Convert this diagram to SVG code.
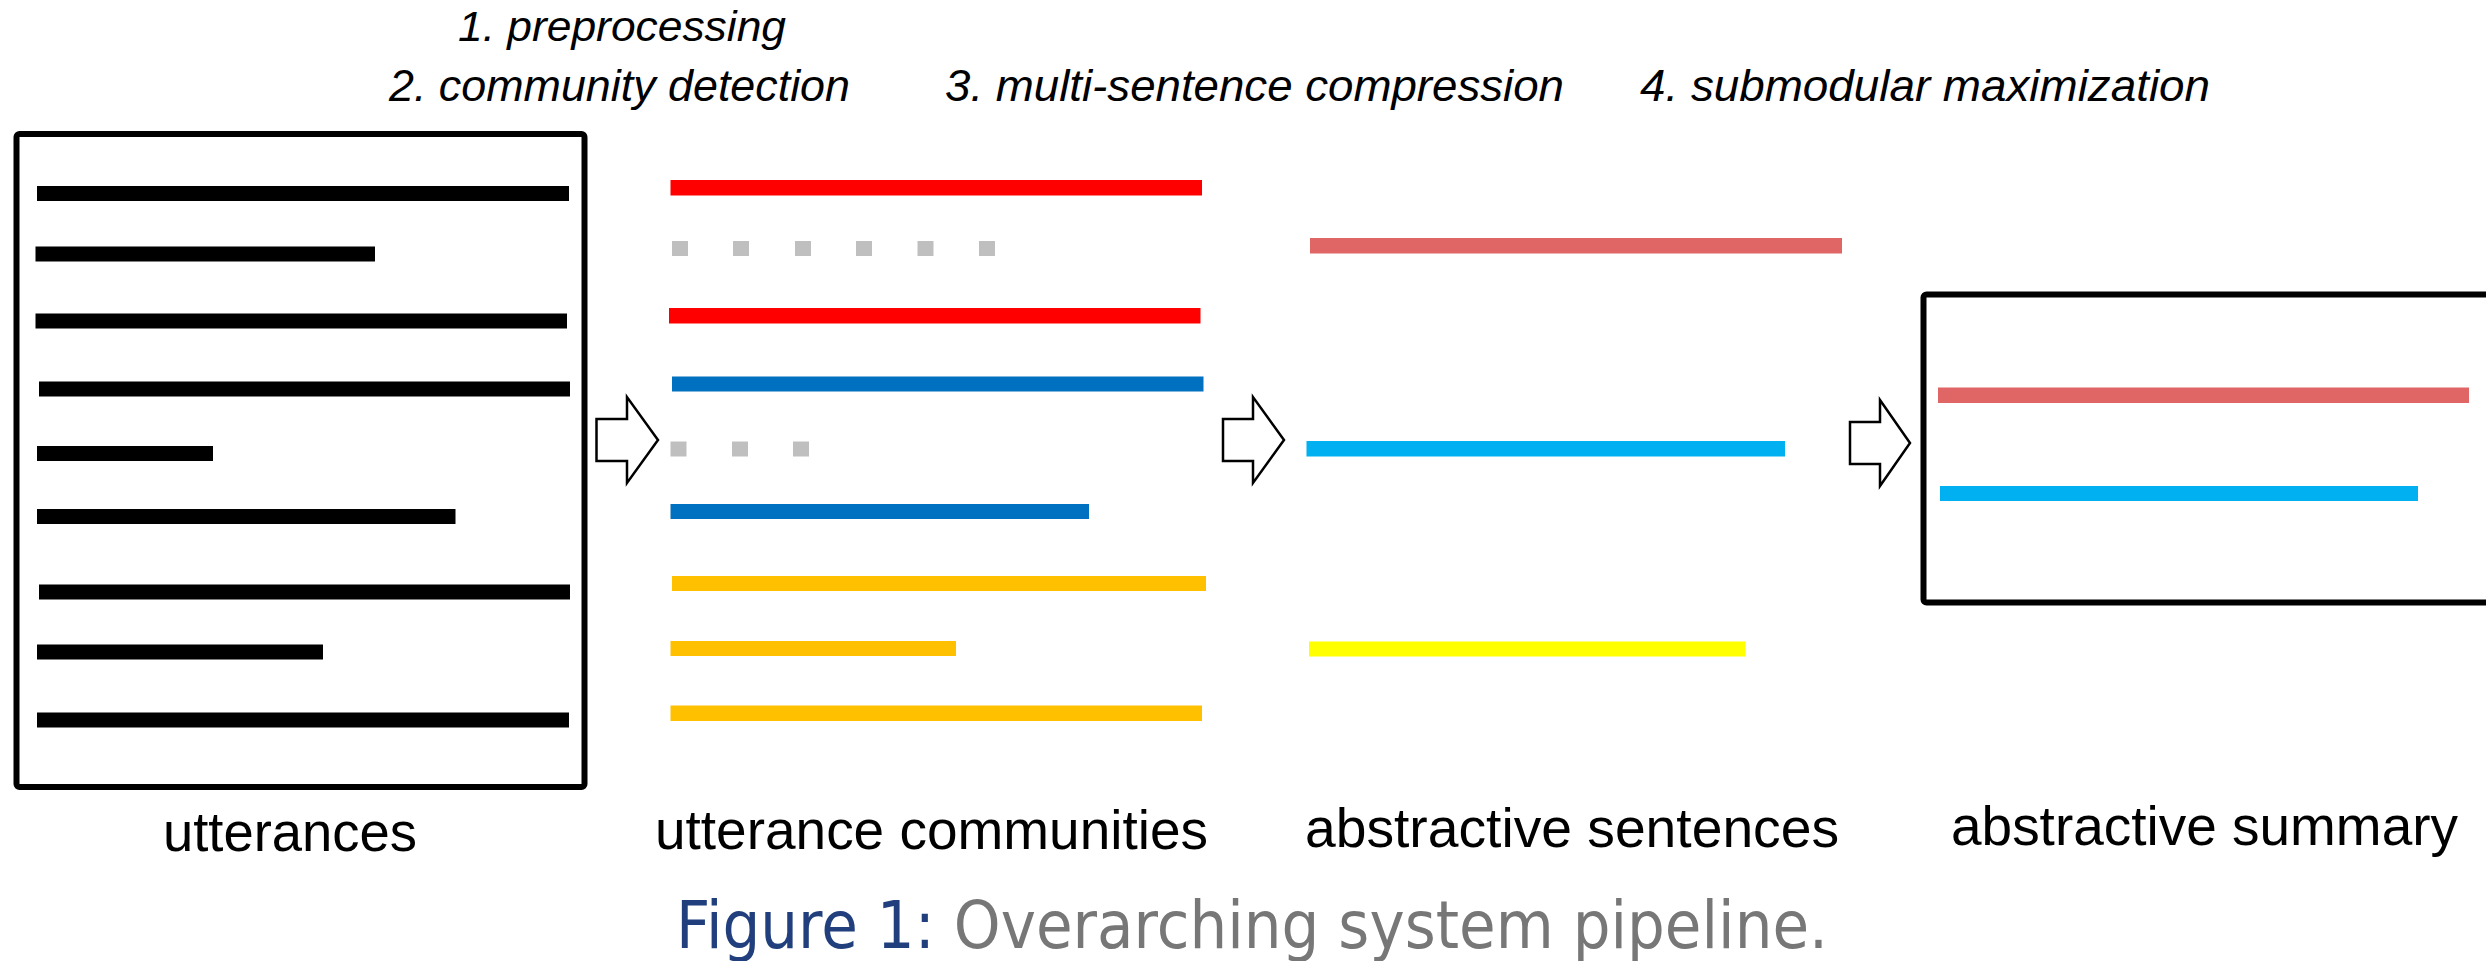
<svg xmlns="http://www.w3.org/2000/svg" width="2486" height="961" viewBox="0 0 2486 961">
<style>
.step{font-family:"Liberation Sans",Arial,sans-serif;font-style:italic;fill:#000}
.lbl{font-family:"Liberation Sans",Arial,sans-serif;font-size:56px;fill:#000}
.cap{font-family:"DejaVu Sans","Noto Sans",sans-serif;font-size:66px}
.box{fill:#fff;stroke:#000;stroke-width:6}
.arrow{fill:#fff;stroke:#000;stroke-width:2.5;stroke-linejoin:miter}
.k{fill:#000}.r{fill:#FF0000}.b{fill:#0070C0}.o{fill:#FFC000}.g{fill:#BFBFBF}
.p{fill:#E06666}.c{fill:#00B0F0}.y{fill:#FFFF00}
</style>
<rect width="2486" height="961" fill="#fff"/>

<g id="steps">
<text class="step" x="458" y="41" font-size="42" textLength="328" lengthAdjust="spacingAndGlyphs">1. preprocessing</text>
<text class="step" x="389" y="101" font-size="45" textLength="461" lengthAdjust="spacingAndGlyphs">2. community detection</text>
<text class="step" x="945" y="101" font-size="45" textLength="619" lengthAdjust="spacingAndGlyphs">3. multi-sentence compression</text>
<text class="step" x="1640" y="101" font-size="45" textLength="570" lengthAdjust="spacingAndGlyphs">4. submodular maximization</text>
</g>

<g id="utterances">
<rect class="box" x="16.5" y="134" width="568" height="653" rx="3"/>
<rect class="k" x="37" y="186" width="532" height="15"/>
<rect class="k" x="35.5" y="246.5" width="339.5" height="15"/>
<rect class="k" x="35.5" y="313.5" width="531.5" height="15"/>
<rect class="k" x="39" y="381.5" width="531" height="15"/>
<rect class="k" x="37" y="446" width="176" height="15"/>
<rect class="k" x="37" y="509" width="418.5" height="15"/>
<rect class="k" x="39" y="584.5" width="531" height="15"/>
<rect class="k" x="37" y="644.5" width="286" height="15"/>
<rect class="k" x="37" y="712.5" width="532" height="15"/>
<text class="lbl" x="163" y="851" textLength="254" lengthAdjust="spacingAndGlyphs">utterances</text>
</g>

<g id="communities">
<rect class="r" x="670.5" y="180" width="531.5" height="15.5"/>
<rect class="g" x="672" y="241" width="16" height="15"/>
<rect class="g" x="733" y="241" width="16" height="15"/>
<rect class="g" x="795" y="241" width="16" height="15"/>
<rect class="g" x="856" y="241" width="16" height="15"/>
<rect class="g" x="917.5" y="241" width="16" height="15"/>
<rect class="g" x="979" y="241" width="16" height="15"/>
<rect class="r" x="669" y="308" width="531.5" height="15.5"/>
<rect class="b" x="672" y="376.5" width="531.5" height="15"/>
<rect class="g" x="670.5" y="441.5" width="16" height="15"/>
<rect class="g" x="732" y="441.5" width="16" height="15"/>
<rect class="g" x="793" y="441.5" width="16" height="15"/>
<rect class="b" x="670.5" y="504" width="418.5" height="15"/>
<rect class="o" x="672" y="576" width="534" height="15"/>
<rect class="o" x="670.5" y="641" width="285.5" height="15"/>
<rect class="o" x="670.5" y="705.5" width="531.5" height="15.5"/>
<text class="lbl" x="655" y="849" textLength="553" lengthAdjust="spacingAndGlyphs">utterance communities</text>
</g>

<g id="sentences">
<rect class="p" x="1310" y="238" width="532" height="15.5"/>
<rect class="c" x="1306.5" y="441" width="478.5" height="15.5"/>
<rect class="y" x="1309" y="641.5" width="436.5" height="15"/>
<text class="lbl" x="1305" y="847" textLength="534" lengthAdjust="spacingAndGlyphs">abstractive sentences</text>
</g>

<g id="summary">
<rect class="box" x="1923.5" y="294.5" width="620" height="308" rx="3" stroke-width="7"/>
<rect class="p" x="1938" y="387.5" width="531" height="15.5"/>
<rect class="c" x="1940" y="486" width="478" height="15"/>
<text class="lbl" x="1951" y="845" textLength="507" lengthAdjust="spacingAndGlyphs">abstractive summary</text>
</g>

<g id="connectors">
<polygon class="arrow" points="596.5,419 627,419 627,397 658,440 627,483 627,461 596.5,461"/>
<polygon class="arrow" points="1223,419 1253,419 1253,397 1284,440 1253,483 1253,461 1223,461"/>
<polygon class="arrow" points="1850,422 1880,422 1880,400 1910,443 1880,486 1880,464 1850,464"/>
</g>

<g id="caption">
<text class="cap" x="676" y="948" textLength="1152" lengthAdjust="spacingAndGlyphs"><tspan fill="#203F7C">Figure 1:</tspan><tspan fill="#777777"> Overarching system pipeline.</tspan></text>
</g>
</svg>
